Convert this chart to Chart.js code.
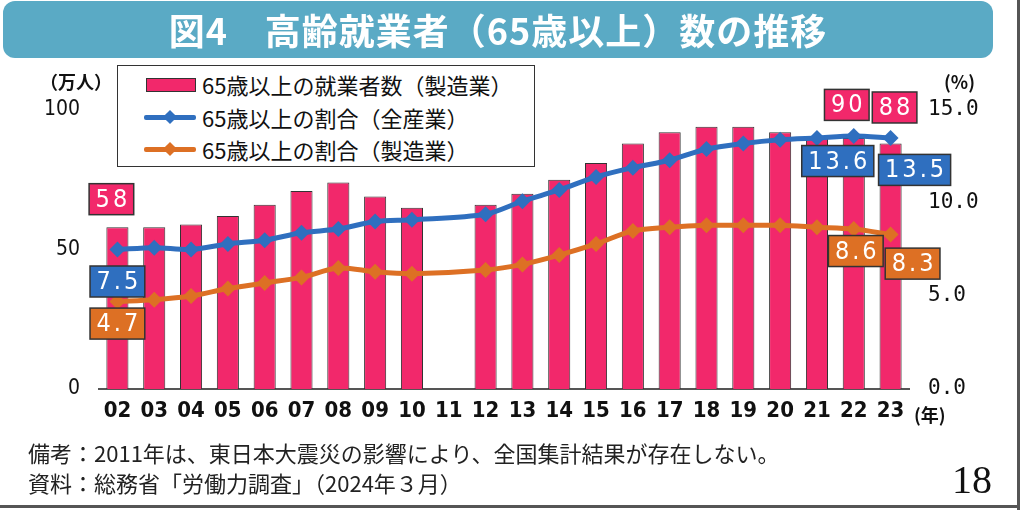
<!DOCTYPE html>
<html lang="ja">
<head>
<meta charset="utf-8">
<script src="https://cdn.jsdelivr.net/npm/chart.js@4.4.1/dist/chart.umd.min.js"></script>
<style>
  html, body { margin: 0; padding: 0; background: #fff; }
  #wrap { position: relative; width: 1024px; height: 510px; overflow: hidden; font-family: "Noto Sans CJK JP", sans-serif; }
  #myChart { position: absolute; left: 0; top: 0; }
  .abs { position: absolute; white-space: nowrap; }
  #banner { left: 3px; top: 1px; width: 990px; height: 57px; background: #5AAAC5; border-radius: 12px; }
  #title { left: 3px; top: 7px; width: 990px; text-align: center; color: #fff; font-weight: bold; font-size: 36px; line-height: 44px; letter-spacing: 1px; }
  #legend { left: 117px; top: 65px; width: 416px; height: 100px; border: 1.5px solid #333; background: #fff; }
  .row { position: absolute; left: 0; height: 30px; }
  .row span { position: absolute; left: 84px; top: 0; font-size: 22px; line-height: 30px; color: #111; }
  .swatch { position: absolute; left: 28px; top: 9px; width: 48px; height: 12px; background: #F2286B; border: 1px solid #333; }
  .ln { position: absolute; left: 26px; top: 13px; width: 52px; height: 5px; border-radius: 2px; }
  .dia { position: absolute; left: 47px; top: 10px; width: 10px; height: 10px; transform: rotate(45deg); }
  .unit { font-weight: bold; font-size: 18px; color: #111; }
  .note { left: 28px; font-size: 22px; color: #222; }
  #page { left: 952px; top: 456px; font-family: "Liberation Serif", serif; font-size: 40px; color: #111; }
  #rb { left: 1017px; top: 0; width: 3px; height: 510px; background: #555; }
  #bb { left: 0; top: 505px; width: 1020px; height: 3px; background: #555; }
</style>
</head>
<body>
<div id="wrap">
  <canvas id="myChart" width="1024" height="510"></canvas>
  <div id="banner" class="abs"></div>
  <div id="title" class="abs">図4　高齢就業者（65歳以上）数の推移</div>
  <div id="legend" class="abs">
    <div class="row" style="top:3px"><div class="swatch"></div><span>65歳以上の就業者数（製造業）</span></div>
    <div class="row" style="top:36px"><div class="ln" style="background:#2F6FBF"></div><div class="dia" style="background:#2F6FBF"></div><span>65歳以上の割合（全産業）</span></div>
    <div class="row" style="top:68px"><div class="ln" style="background:#DD7024"></div><div class="dia" style="background:#DD7024"></div><span>65歳以上の割合（製造業）</span></div>
  </div>
  <div class="abs unit" style="left:40px; top:68px;">（万人）</div>
  <div class="abs unit" style="left:944px; top:68px;">(%)</div>
  <div class="abs unit" style="left:914px; top:401px;">(年)</div>
  <div class="abs note" style="top:436px;">備考：2011年は、東日本大震災の影響により、全国集計結果が存在しない。</div>
  <div class="abs note" style="top:466px;">資料：総務省「労働力調査」（2024年３月）</div>
  <div id="page" class="abs">18</div>
  <div id="rb" class="abs"></div>
  <div id="bb" class="abs"></div>
</div>
<script>
const years = ['02', '03', '04', '05', '06', '07', '08', '09', '10', '11', '12',
               '13', '14', '15', '16', '17', '18', '19', '20', '21', '22', '23'];
// 65歳以上の就業者数（製造業）, 万人 ; 2011 has no data
const workersMfg = [58, 58, 59, 62, 66, 71, 74, 69, 65, null, 66,
                    70, 75, 81, 88, 92, 94, 94, 92, 90, 90, 88];
// 65歳以上の割合（全産業）, %
const shareAll = [7.5, 7.6, 7.5, 7.8, 8.0, 8.4, 8.6, 9.0, 9.1, null, 9.4,
                  10.1, 10.7, 11.4, 11.9, 12.3, 12.9, 13.2, 13.4, 13.5, 13.6, 13.5];
// 65歳以上の割合（製造業）, %
const shareMfg = [4.7, 4.8, 5.0, 5.4, 5.7, 6.0, 6.5, 6.3, 6.2, null, 6.4,
                  6.7, 7.2, 7.8, 8.5, 8.7, 8.8, 8.8, 8.8, 8.7, 8.6, 8.3];
const leftTicks = [0, 50, 100];
const rightTicks = [0, 5, 10, 15];

const pink = '#F2286B';
const blue = '#2F6FBF';
const orange = '#DD7024';
const narrow = '"Liberation Sans Narrow", "DejaVu Sans Condensed", "Liberation Sans", sans-serif';

// value boxes: dataset index, point index, offset from the mark
const callouts = [
  { ds: 0, i: 0, dx: -6, dy: -28, fill: pink, fmt: v => String(v) },
  { ds: 0, i: 20, dx: -7, dy: -33, fill: pink, fmt: v => String(v) },
  { ds: 0, i: 21, dx: 4, dy: -36, fill: pink, fmt: v => String(v) },
  { ds: 1, i: 0, dx: 0, dy: 32, fill: blue, fmt: v => v.toFixed(1) },
  { ds: 1, i: 20, dx: -16, dy: 25, fill: blue, fmt: v => v.toFixed(1) },
  { ds: 1, i: 21, dx: 24, dy: 32, fill: blue, fmt: v => v.toFixed(1) },
  { ds: 2, i: 0, dx: 0, dy: 22, fill: orange, fmt: v => v.toFixed(1) },
  { ds: 2, i: 20, dx: 2, dy: 22, fill: orange, fmt: v => v.toFixed(1) },
  { ds: 2, i: 21, dx: 22, dy: 29, fill: orange, fmt: v => v.toFixed(1) }
];

const calloutPlugin = {
  id: 'callouts',
  afterDatasetsDraw(chart) {
    const ctx = chart.ctx;
    ctx.save();
    ctx.font = '25px ' + narrow;
    ctx.letterSpacing = '3px';
    ctx.textAlign = 'center';
    ctx.textBaseline = 'middle';
    callouts.forEach(c => {
      const el = chart.getDatasetMeta(c.ds).data[c.i];
      const v = chart.data.datasets[c.ds].data[c.i];
      const txt = c.fmt(v);
      const w = ctx.measureText(txt).width + 10;
      const h = 31;
      const cx = el.x + c.dx, cy = el.y + c.dy;
      ctx.fillStyle = c.fill;
      ctx.fillRect(cx - w / 2, cy - h / 2, w, h);
      ctx.strokeStyle = '#333';
      ctx.lineWidth = 1.5;
      ctx.strokeRect(cx - w / 2, cy - h / 2, w, h);
      ctx.fillStyle = '#fff';
      ctx.fillText(txt, cx + 1.5, cy + 1);
    });
    ctx.restore();
  }
};

const chart = new Chart(document.getElementById('myChart'), {
  type: 'bar',
  data: {
    labels: years,
    datasets: [
      {
        label: '65歳以上の就業者数（製造業）',
        data: workersMfg,
        backgroundColor: pink,
        borderColor: '#333',
        borderWidth: 1,
        barPercentage: 0.6,
        categoryPercentage: 1,
        yAxisID: 'y',
        order: 3
      },
      {
        type: 'line',
        label: '65歳以上の割合（全産業）',
        data: shareAll,
        borderColor: blue,
        backgroundColor: blue,
        borderWidth: 5,
        pointStyle: 'rectRot',
        pointRadius: 8,
        pointBorderWidth: 0,
        tension: 0.3,
        spanGaps: true,
        yAxisID: 'y1',
        order: 1
      },
      {
        type: 'line',
        label: '65歳以上の割合（製造業）',
        data: shareMfg,
        borderColor: orange,
        backgroundColor: orange,
        borderWidth: 5,
        pointStyle: 'rectRot',
        pointRadius: 8,
        pointBorderWidth: 0,
        tension: 0.3,
        spanGaps: true,
        yAxisID: 'y1',
        order: 2
      }
    ]
  },
  options: {
    responsive: false,
    animation: false,
    layout: { padding: { left: 19, right: 0, top: 100, bottom: 81 } },
    scales: {
      x: {
        grid: { display: false, drawTicks: false },
        border: { display: true, color: '#555', width: 2 },
        ticks: { color: '#111', padding: 9, maxRotation: 0, autoSkip: false,
                 font: { family: narrow, size: 22, weight: 'bold' } },
        afterFit: s => { s.height = 40; }
      },
      y: {
        position: 'left',
        min: 0, max: 100,
        afterBuildTicks: s => { s.ticks = leftTicks.map(v => ({ value: v })); },
        grid: { display: false, drawTicks: false },
        border: { display: false },
        ticks: { color: '#111', padding: 19, font: { family: narrow, size: 21 } },
        afterFit: s => { s.width = 80; }
      },
      y1: {
        position: 'right',
        min: 0, max: 15,
        afterBuildTicks: s => { s.ticks = rightTicks.map(v => ({ value: v })); },
        grid: { display: false, drawTicks: false },
        border: { display: false },
        ticks: { color: '#111', padding: 19, font: { family: '"DejaVu Sans Mono", monospace', size: 21 },
                 callback: v => Number(v).toFixed(1) },
        afterFit: s => { s.width = 110; }
      }
    },
    plugins: {
      legend: { display: false },
      tooltip: { enabled: false }
    }
  },
  plugins: [calloutPlugin]
});

// nudge the plot area onto the reference position
const want = { left: 99, right: 909, top: 110, bottom: 389 };
const ca = chart.chartArea;
const pad = chart.options.layout.padding;
pad.left += want.left - ca.left;
pad.right += ca.right - want.right;
pad.top += want.top - ca.top;
pad.bottom += ca.bottom - want.bottom;
chart.update('none');
</script>
</body>
</html>
